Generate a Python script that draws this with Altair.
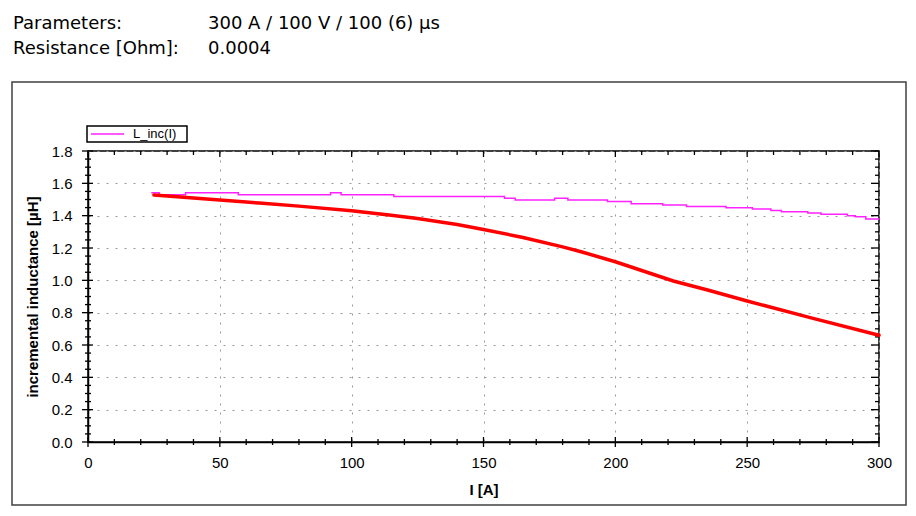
import altair as alt
import pandas as pd

# ---- data ----
red_I = [25, 40, 50, 65, 80, 100, 115, 125, 140, 150, 165, 180, 187, 200, 212, 222, 235, 250, 275, 300]
red_L = [1.528, 1.510, 1.497, 1.478, 1.459, 1.430, 1.403, 1.383, 1.345, 1.315, 1.265, 1.207, 1.177, 1.115,
         1.050, 0.996, 0.940, 0.872, 0.765, 0.660]

mag_I = [24, 27, 37, 57, 92, 96, 116, 158, 162, 177, 182, 197, 206, 218, 227, 242, 252, 259, 263, 273,
         278, 288, 291, 295, 300]
mag_L = [1.542, 1.530, 1.542, 1.530, 1.542, 1.530, 1.518, 1.508, 1.497, 1.507, 1.497, 1.488, 1.474, 1.466,
         1.457, 1.449, 1.441, 1.432, 1.424, 1.416, 1.408, 1.400, 1.393, 1.380, 1.377]

x_major = [0, 50, 100, 150, 200, 250, 300]
x_minor = [v for v in range(0, 301, 10) if v % 50 != 0]
y_major = [0.0, 0.2, 0.4, 0.6, 0.8, 1.0, 1.2, 1.4, 1.6, 1.8]
y_minor = [round(v * 0.05, 2) for v in range(0, 37) if v % 4 != 0]

header_labels = ["Parameters:", "Resistance [Ohm]:"]
header_values = ["300 A / 100 V / 100 (6) µs", "0.0004"]
legend_label = "L_inc(I)"
x_title = "I [A]"
y_title = "incremental inductance [µH]"

# ---- layout ----
W, H = 791, 291
AX_FONT = "Liberation Sans, Arial, sans-serif"
HDR_FONT = "DejaVu Sans, Verdana, sans-serif"

xs = alt.Scale(domain=[0, 300], nice=False, zero=False)
ys = alt.Scale(domain=[0, 1.8], nice=False, zero=False)

xaxis = alt.Axis(title=x_title, values=x_major, format="d", grid=True, gridDash=[2, 7],
                 gridColor="#9a9a9a", gridWidth=1, ticks=False, tickSize=0,
                 domainColor="black", domainWidth=1.5, labelFont=AX_FONT, labelFontSize=15,
                 labelColor="black", labelPadding=13, labelFlush=False, labelOverlap=False,
                 titleFont=AX_FONT, titleFontSize=15, titleFontWeight="bold", titleColor="black",
                 titleY=47, titleBaseline="middle")
yaxis = alt.Axis(title=y_title, values=y_major, format=".1f", grid=True, gridDash=[2, 7],
                 gridColor="#9a9a9a", gridWidth=1, ticks=False, tickSize=0,
                 domainColor="black", domainWidth=1.5, labelFont=AX_FONT, labelFontSize=15,
                 labelColor="black", labelPadding=16, labelFlush=False, labelOverlap=False,
                 titleFont=AX_FONT, titleFontSize=15, titleFontWeight="bold", titleColor="black",
                 titleX=-56, titleY=H / 2, titleBaseline="middle", titleAlign="center", titleAngle=-90)

X = lambda: alt.X("I:Q", scale=xs, axis=xaxis)
Y = lambda: alt.Y("L:Q", scale=ys, axis=yaxis)


def xticks(vals, y0, y1):
    return alt.Chart(pd.DataFrame({"I": vals})).mark_rule(color="black", strokeWidth=1.3).encode(
        x=X(), y=alt.value(y0), y2=alt.value(y1))


def yticks(vals, x0, x1):
    return alt.Chart(pd.DataFrame({"L": vals})).mark_rule(color="black", strokeWidth=1.3).encode(
        y=Y(), x=alt.value(x0), x2=alt.value(x1))


one = pd.DataFrame({"k": [0]})

frame = alt.Chart(one).mark_rect(fill="white", fillOpacity=0, stroke="#404040", strokeWidth=1.5).encode(
    x=alt.value(-76), x2=alt.value(818), y=alt.value(-69), y2=alt.value(354))

mag = alt.Chart(pd.DataFrame({"I": mag_I, "L": mag_L})).mark_line(
    color="#ff22ff", strokeWidth=1.5, interpolate="step-after").encode(x=X(), y=Y())
red = alt.Chart(pd.DataFrame({"I": red_I, "L": red_L})).mark_line(
    color="#ff0000", strokeWidth=3.5, strokeCap="round").encode(x=X(), y=Y())

leg_box = alt.Chart(one).mark_rect(fill="white", stroke="black", strokeWidth=1.5).encode(
    x=alt.value(-1), x2=alt.value(99), y=alt.value(-25), y2=alt.value(-9))
leg_line = alt.Chart(one).mark_rule(color="#ff22ff", strokeWidth=1.5).encode(
    x=alt.value(3), x2=alt.value(36), y=alt.value(-17))
leg_text = alt.Chart(one).mark_text(align="left", baseline="middle", font=AX_FONT, fontSize=13,
                                    color="black").encode(
    x=alt.value(45), y=alt.value(-17), text=alt.value(legend_label))

hdr = []
for i, (lab, val) in enumerate(zip(header_labels, header_values)):
    yb = -122 + 25 * i
    hdr.append(alt.Chart(one).mark_text(align="left", baseline="alphabetic", font=HDR_FONT,
                                        fontSize=18, color="black").encode(
        x=alt.value(-75), y=alt.value(yb), text=alt.value(lab)))
    hdr.append(alt.Chart(one).mark_text(align="left", baseline="alphabetic", font=HDR_FONT,
                                        fontSize=18, color="black").encode(
        x=alt.value(120), y=alt.value(yb), text=alt.value(val)))

layers = [frame,
          xticks(x_major, H - 5, H + 5), xticks(x_minor, H - 3, H + 3),
          xticks(x_major, 0, 6), xticks(x_minor, 0, 4),
          yticks(y_major, -6, 5), yticks(y_minor, -3, 3),
          yticks(y_major, W - 8, W), yticks(y_minor, W - 4, W),
          mag, red, leg_box, leg_line, leg_text] + hdr

chart = alt.layer(*layers).properties(
    width=W, height=H,
    padding={"left": 80, "top": 143, "right": 29, "bottom": 66},
    autosize=alt.AutoSizeParams(type="none"),
    background="white",
).configure_view(stroke="black", strokeWidth=1.5)

chart.save("out.html", embed_options={"renderer": "svg", "actions": False})
